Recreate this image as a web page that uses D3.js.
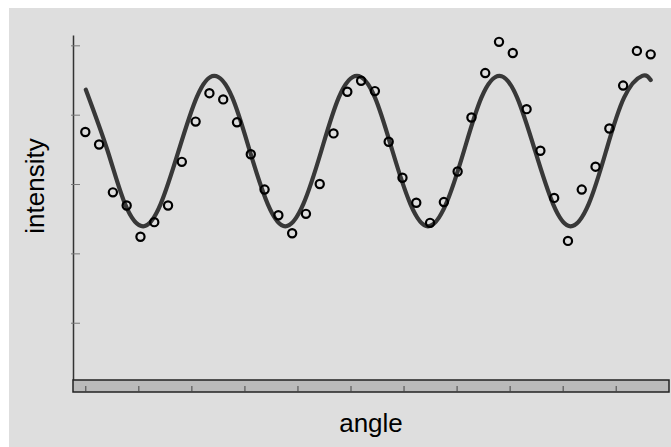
<!DOCTYPE html>
<html>
<head>
<meta charset="utf-8">
<script src="https://cdn.jsdelivr.net/npm/d3@7"></script>
<style>
  html, body { margin: 0; padding: 0; background: #ffffff; }
  svg { display: block; font-family: "Liberation Sans", Arial, sans-serif; }
</style>
</head>
<body>
<svg id="chart" width="671" height="447"></svg>
<script>
// measured points (angle in tick units, intensity in tick units)
var angles = [0.00, 0.26, 0.52, 0.78, 1.04, 1.30, 1.56, 1.82, 2.08, 2.34,
              2.60, 2.86, 3.12, 3.38, 3.64, 3.90, 4.16, 4.42, 4.68, 4.94,
              5.20, 5.46, 5.72, 5.98, 6.24, 6.50, 6.76, 7.02, 7.28, 7.54,
              7.80, 8.06, 8.32, 8.58, 8.84, 9.10, 9.36, 9.62, 9.88, 10.14,
              10.40, 10.66];
var intensities = [3.75, 3.57, 2.88, 2.69, 2.24, 2.45, 2.69, 3.32, 3.90, 4.31,
                   4.22, 3.89, 3.43, 2.92, 2.55, 2.29, 2.57, 3.00, 3.73, 4.33,
                   4.49, 4.34, 3.61, 3.09, 2.73, 2.44, 2.74, 3.18, 3.96, 4.60,
                   5.05, 4.89, 4.08, 3.48, 2.80, 2.18, 2.92, 3.25, 3.80, 4.42,
                   4.92, 4.87];

// fitted curve
var fitAngles = [0.01, 0.42, 0.75, 1.09, 1.42, 1.76, 2.10, 2.43, 2.77, 3.10,
                 3.44, 3.77, 4.11, 4.45, 4.78, 5.12, 5.46, 5.79, 6.13, 6.46,
                 6.80, 7.14, 7.47, 7.81, 8.14, 8.48, 8.82, 9.15, 9.49, 9.82,
                 10.16, 10.50, 10.66];
var fitValues = [4.36, 3.48, 2.71, 2.39, 2.71, 3.48, 4.25, 4.56, 4.25, 3.48,
                 2.71, 2.39, 2.71, 3.48, 4.25, 4.56, 4.25, 3.48, 2.71, 2.39,
                 2.71, 3.48, 4.25, 4.56, 4.25, 3.48, 2.71, 2.39, 2.71, 3.48,
                 4.25, 4.56, 4.50];

var xTicks = [0, 1, 2, 3, 4, 5, 6, 7, 8, 9, 10];
var yTicks = [1, 2, 3, 4, 5];

var svg = d3.select("#chart");

// panel background
svg.append("rect")
    .attr("x", 9).attr("y", 8)
    .attr("width", 662).attr("height", 439)
    .attr("fill", "#dedede");

var x = d3.scaleLinear().domain([-0.232, 11.005]).range([73, 669]);
var y = d3.scaleLinear().domain([0.174, 5.149]).range([380, 35]);

// y axis: line with short inward ticks
var yAxis = svg.append("g")
    .attr("transform", "translate(" + x(-0.232) + ",0)")
    .call(d3.axisRight(y).tickValues(yTicks).tickSize(7).tickSizeOuter(0).tickFormat(""));
yAxis.select(".domain").attr("stroke", "#333").attr("stroke-width", 1.5);
yAxis.selectAll(".tick line")
    .attr("x1", -2)
    .attr("stroke", "#777").attr("stroke-width", 1);

// x axis band
svg.append("rect")
    .attr("x", x(-0.232)).attr("y", 380)
    .attr("width", x(11.005) - x(-0.232)).attr("height", 12)
    .attr("fill", "#bababa")
    .attr("stroke", "#222").attr("stroke-width", 1.5);

var xAxis = svg.append("g")
    .attr("transform", "translate(0,392)")
    .call(d3.axisTop(x).tickValues(xTicks).tickSize(6).tickSizeOuter(0).tickFormat(""));
xAxis.select(".domain").remove();
xAxis.selectAll(".tick line").attr("stroke", "#444").attr("stroke-width", 1);

// fitted curve
var fit = fitAngles.map(function (a, i) { return [a, fitValues[i]]; });
svg.append("path")
    .datum(fit)
    .attr("fill", "none")
    .attr("stroke", "#383838")
    .attr("stroke-width", 4.2)
    .attr("stroke-linecap", "round")
    .attr("d", d3.line()
        .x(function (d) { return x(d[0]); })
        .y(function (d) { return y(d[1]); })
        .curve(d3.curveNatural));

// data points
svg.append("g").selectAll("circle")
    .data(angles)
    .join("circle")
    .attr("cx", function (d) { return x(d); })
    .attr("cy", function (d, i) { return y(intensities[i]); })
    .attr("r", 4.1)
    .attr("fill", "none")
    .attr("stroke", "#000")
    .attr("stroke-width", 2.2);

// labels
svg.append("text")
    .attr("x", (x(-0.232) + x(11.005)) / 2)
    .attr("y", 432)
    .attr("text-anchor", "middle")
    .attr("font-size", 26)
    .attr("fill", "#000")
    .text("angle");

svg.append("text")
    .attr("transform", "translate(43.5,186) rotate(-90)")
    .attr("text-anchor", "middle")
    .attr("font-size", 26)
    .attr("fill", "#000")
    .text("intensity");
</script>
</body>
</html>
